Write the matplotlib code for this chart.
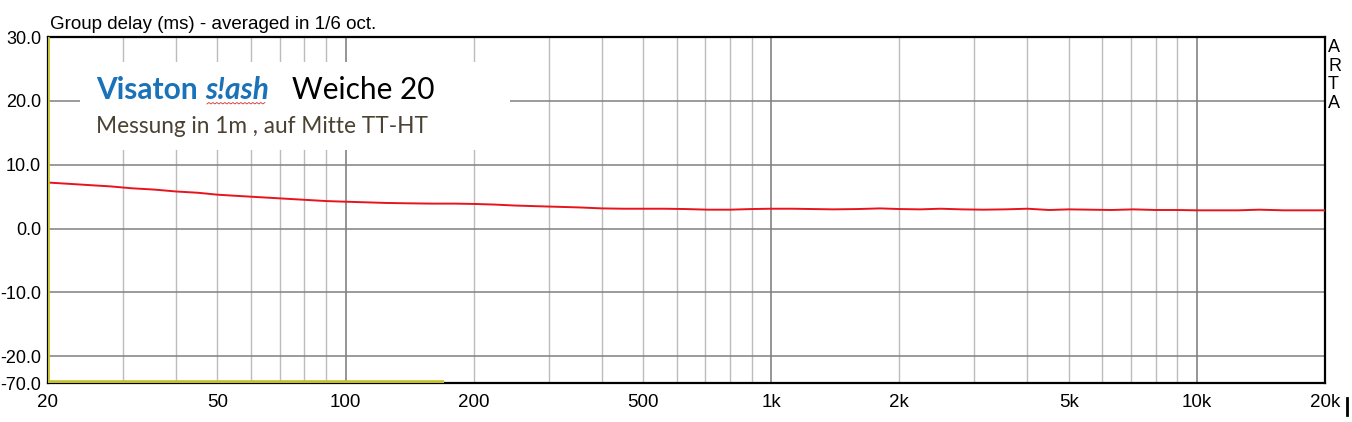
import numpy as np
import matplotlib
matplotlib.use("Agg")
import matplotlib.pyplot as plt
from matplotlib.patches import Rectangle
from matplotlib.lines import Line2D

# group delay, 1/6 oct smoothed
freq = [20, 22.4, 25, 28, 31.5, 35.5, 40, 45, 50, 56, 63, 71, 80, 90, 100,
        112, 125, 140, 160, 180, 200, 224, 250, 280, 315, 355, 400, 450, 500,
        560, 630, 710, 800, 900, 1000, 1120, 1250, 1400, 1600, 1800, 2000,
        2240, 2500, 2800, 3150, 3550, 4000, 4500, 5000, 5600, 6300, 7100,
        8000, 9000, 10000, 11200, 12500, 14000, 16000, 18000, 20000]
gd_ms = [7.2, 7.0, 6.8, 6.6, 6.3, 6.1, 5.8, 5.6, 5.3, 5.1, 4.9, 4.7, 4.5, 4.3, 4.2,
         4.1, 4.0, 3.95, 3.9, 3.9, 3.85, 3.75, 3.6, 3.5, 3.4, 3.3, 3.15, 3.1, 3.1,
         3.1, 3.05, 2.95, 2.95, 3.05, 3.1, 3.1, 3.05, 3.0, 3.05, 3.15, 3.05,
         3.0, 3.1, 3.0, 2.95, 3.0, 3.1, 2.9, 3.0, 2.95, 2.9, 3.0,
         2.9, 2.9, 2.85, 2.85, 2.85, 2.95, 2.85, 2.85, 2.85]

# second (yellow) trace, only the low end is visible
freq2 = [20, 20, 170]
gd2 = [32, -24.0, -24.0]

yticks = [30, 20, 10, 0, -10, -20, -24.2]
ylabels = ["30.0", "20.0", "10.0", "0.0", "-10.0", "-20.0", "-70.0"]
xticks = [20, 50, 100, 200, 500, 1000, 2000, 5000, 10000, 20000]
xlabels = ["20", "50", "100", "200", "500", "1k", "2k", "5k", "10k", "20k"]

W, H = 1352, 422
fig = plt.figure(figsize=(W / 100, H / 100), dpi=100)
plt.rcParams['font.family'] = ['Liberation Sans', 'DejaVu Sans']
ax = fig.add_axes([48 / W, 1 - 383 / H, (1325 - 48) / W, (383 - 37) / H])
ax.set_xscale('log')
ax.set_xlim(20, 20000)
ax.set_ylim(-24.2, 30)

# grid: decades darker, rest light
minor = [f * d for d in (10, 100, 1000) for f in range(2, 10)] + [20000]
for f in minor:
    if 20 < f < 20000:
        ax.axvline(f, color='#bcbcbc', lw=1.0, zorder=0.5)
for f in (100, 1000, 10000):
    ax.axvline(f, color='#787878', lw=1.1, zorder=0.6)
for v in yticks[1:-1]:
    ax.axhline(v, color='#808080', lw=1.1, zorder=0.6)

ax.plot(freq, gd_ms, color='#e8141c', lw=1.4, zorder=3)
ax.plot(freq2, gd2, color='#c4c02c', lw=2.6, zorder=3, solid_capstyle='butt')

ax.set_xticks(xticks)
ax.set_xticklabels(xlabels)
ax.xaxis.set_minor_locator(matplotlib.ticker.NullLocator())
ax.set_yticks(yticks)
ax.set_yticklabels(ylabels)
ax.tick_params(length=0, labelsize=13, pad=6)
ax.tick_params(axis='x', labelsize=13.5, pad=8)
ax.tick_params(axis='y', pad=5)
for s in ax.spines.values():
    s.set_linewidth(1.6)
    s.set_color('black')

fig.text(50 / W, 1 - 29 / H, "Group delay (ms) - averaged in 1/6 oct.",
         fontsize=13.5, va='baseline', ha='left')
fig.text(1328 / W, 1 - 39 / H, "A\nR\nT\nA", fontsize=13, va='top', ha='left',
         linespacing=1.12)
fig.add_artist(Line2D([1347 / W, 1347 / W], [1 - 398 / H, 1 - 415 / H],
                      color='black', lw=2))

# white label box with the measurement note
ax.add_patch(Rectangle((80 / W, 1 - 150 / H), 430 / W, 88 / H,
                       transform=fig.transFigure, facecolor='white',
                       edgecolor='none', zorder=1.5))
fig.canvas.draw()
r = fig.canvas.get_renderer()
blue = '#1a72b8'
x = 96
parts = [("Visaton ", dict(color=blue, weight='bold', style='normal')),
         ("s!ash", dict(color=blue, weight='bold', style='italic')),
         ("   Weiche 20", dict(color='black', weight='normal', style='normal'))]
for txt, kw in parts:
    t = fig.text(x / W, 1 - 99 / H, txt, fontsize=21.5, family='Lato',
                 va='baseline', ha='left', **kw)
    bb = t.get_window_extent(r)
    if txt == "s!ash":
        xs = np.arange(bb.x0 + 2, bb.x1 - 2, 2.0)
        ys = (H - 104) + np.where(np.arange(len(xs)) % 2 == 0, 0, 1.5)
        fig.add_artist(Line2D(xs / W, ys / H, color='#d03030', lw=0.6))
    x = bb.x1
fig.text(96 / W, 1 - 133 / H, "Messung in 1m , auf Mitte TT-HT", fontsize=16.3,
         family='Lato', color='#4a4232', va='baseline', ha='left')

fig.savefig("out.png", dpi=100)
